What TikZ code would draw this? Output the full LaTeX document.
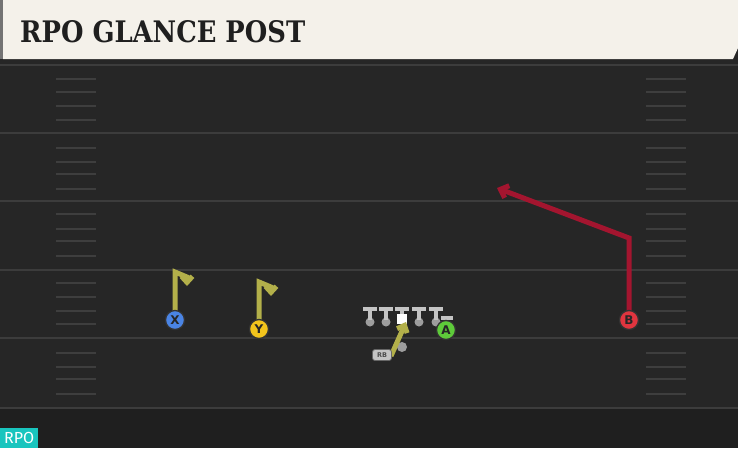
\documentclass[tikz,border=0pt]{standalone}
\usepackage{fontspec}
\setmainfont{DejaVu Sans}
\newfontfamily\titlefont{DejaVu Serif}
\newfontfamily\badgefont{Fira Sans}
\usetikzlibrary{arrows.meta}
\definecolor{fieldbg}{HTML}{262626}
\definecolor{fielddark}{HTML}{1F1F1F}
\definecolor{yardline}{HTML}{3C3C3C}
\definecolor{hashc}{HTML}{3E3E3E}
\definecolor{headbg}{HTML}{F4F1EA}
\definecolor{olive}{HTML}{B3B04A}
\definecolor{crimson}{HTML}{A3152F}
\definecolor{xblue}{HTML}{4A84E4}
\definecolor{yyellow}{HTML}{F2C41C}
\definecolor{agreen}{HTML}{5ECB3A}
\definecolor{bred}{HTML}{E0353F}
\definecolor{lineman}{HTML}{C4C4C4}
\definecolor{teal}{HTML}{19C5BE}
\tikzset{
  x=1pt, y=-1pt,
  yard/.style={draw=yardline, line width=2.2pt},
  hashmark/.style={draw=hashc, line width=2pt},
  player/.style={circle, draw=black!80, line width=1.3pt, minimum size=19pt, inner sep=0pt, font=\bfseries\fontsize{12}{12}\selectfont, text=black!85},
  oroute/.style={draw=olive, line width=5pt, -{Straight Barb[length=6pt,width=11pt]}},
  rroute/.style={draw=crimson, line width=5pt, line join=miter, -{Straight Barb[length=7pt,width=13pt]}},
  lm/.style={draw=lineman, line width=4pt},
  lmdot/.style={circle, fill=lineman!80!black, inner sep=0pt, minimum size=9pt}
}
\begin{document}
\begin{tikzpicture}
\useasboundingbox (0,0) rectangle (738,448);
% field
\fill[fieldbg] (0,0) rectangle (738,448);
\fill[fielddark] (0,408) rectangle (738,448);
\fill[black!85] (0,58) rectangle (738,66);
% yard lines
\foreach \yy in {65,133,201,270,338,408} {
  \draw[yard] (0,\yy) -- (738,\yy);
}
% hash marks
\foreach \yy in {79,92,106,120,148,162,174,189,214,229,241,256,283,297,311,324,353,367,379,394} {
  \draw[hashmark] (56,\yy) -- (96,\yy);
  \draw[hashmark] (646,\yy) -- (686,\yy);
}
% header
\fill[black!55] (0,0) rectangle (4,59);
\fill[headbg] (3,0) -- (738,0) -- (738,48) -- (733,59) -- (3,59) -- cycle;
\node[anchor=south west, inner sep=0pt, text=black!88] (title) at (20,43)
  {\resizebox{285pt}{22pt}{\titlefont\bfseries RPO GLANCE POST}};
% badge
\node[anchor=south west, fill=teal, text=white, inner sep=0pt, minimum width=38pt, minimum height=20pt, font=\badgefont\fontsize{16}{16}\selectfont] (badge) at (0,448) {RPO};
% offensive line
\foreach \xx/\nm in {370/l1,386/l2,419/l4,436/l5} {
  \node[lmdot] (\nm) at (\xx,322) {};
  \draw[lm] (\xx-7,309) -- (\xx+7,309);
  \draw[lm] (\xx,309) -- (\xx,320);
}
\draw[lm] (395,309) -- (409,309);
\draw[lm] (402,309) -- (402,316);
\node[fill=white, minimum size=10pt, inner sep=0pt] (ctr) at (402,319) {};
\draw[lm] (441,318) -- (453,318);
% RB
\node[lmdot, minimum size=10pt] (rbdot) at (402,347) {};
\coordinate (rbstart) at (391,356);
\coordinate (rbend) at (406,322);
\draw[oroute] (rbstart) -- (rbend);
\node[fill=lineman, rounded corners=2.5pt, draw=black!60, line width=0.8pt, minimum width=19pt, minimum height=11pt, inner sep=0pt, font=\bfseries\fontsize{6.5}{6.5}\selectfont, text=black!70] (rb) at (382,355) {RB};
% X route
\coordinate (xtop) at (175,272);
\coordinate (xend) at (187,286);
\draw[oroute, line join=miter] (175,312) -- (xtop) -- (187,277) -- (xend);
\node[player, fill=xblue] (X) at (175,320) {X};
% Y route
\coordinate (ytop) at (259,282);
\coordinate (yend) at (271,296);
\draw[oroute, line join=miter] (259,320) -- (ytop) -- (271,287) -- (yend);
\node[player, fill=yyellow] (Y) at (259,329) {Y};
% B route
\coordinate (bcorner) at (629,238);
\coordinate (bend) at (497,188);
\draw[rroute] (629,312) -- (bcorner) -- (bend);
\node[player, fill=bred] (B) at (629,320) {B};
% A
\node[player, fill=agreen] (A) at (446,330) {A};
\end{tikzpicture}
\end{document}
